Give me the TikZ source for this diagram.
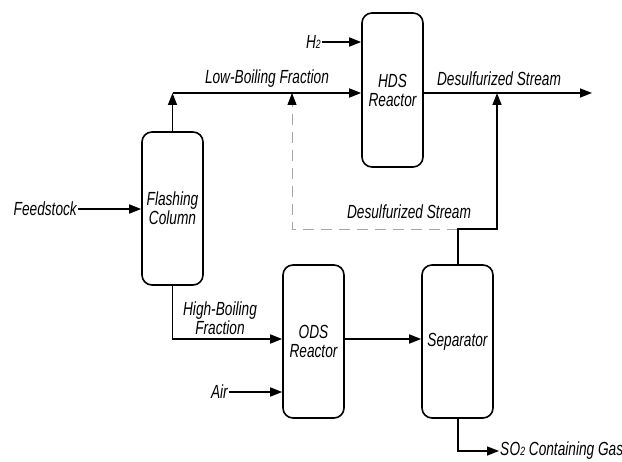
\documentclass[tikz,border=0pt]{standalone}
\usepackage{fontspec}
\setmainfont{Liberation Sans}[FakeStretch=0.72]
\usetikzlibrary{arrows.meta,calc}
\newcommand{\sm}[1]{{\fontsize{12}{13}\selectfont #1}}
\begin{document}
\begin{tikzpicture}[x=1pt,y=-1pt,
  unit/.style={draw,line width=1.6pt,rounded corners=10pt,inner sep=0pt,align=center,font=\fontsize{19}{19}\selectfont\itshape},
  lbl/.style={inner sep=1pt,font=\fontsize{19}{19}\selectfont\itshape,align=center},
  pipe/.style={line width=1.6pt},
  arr/.style={pipe,-{Triangle[length=12pt,width=9pt]}},
  dsh/.style={line width=0.9pt,gray!70,dash pattern=on 11pt off 7pt,-{Triangle[length=12pt,width=9pt,color=black]}}]
\useasboundingbox (0,0) rectangle (622,462);
% units
\node[unit,minimum width=61pt,minimum height=153pt] (col) at (172.5,208.5) {Flashing\\Column};
\node[unit,minimum width=61pt,minimum height=154pt] (hds) at (392.5,90) {HDS\\Reactor};
\node[unit,minimum width=61pt,minimum height=153pt] (ods) at (313.5,341.5) {ODS\\Reactor};
\node[unit,minimum width=71pt,minimum height=153pt] (sep) at (457.5,341.5) {Separator};
% stream labels
\node[lbl,anchor=east] (feed) at (78,209) {Feedstock};
\node[lbl,anchor=east] (h2) at (322,42) {H\sm{2}};
\node[lbl,anchor=east] (air) at (229,392) {Air};
\node[lbl,anchor=west] (so2) at (499,451) {S\hspace{0.3pt}O\sm{2} Containing Gas};
\node[lbl] (lbf) at (267,79) {Low-Boiling Fraction};
\node[lbl] (ds1) at (499,79) {Desulfurized Stream};
\node[lbl] (ds2) at (409,212) {Desulfurized Stream};
\node[lbl] (hbf) at (220,318) {High-Boiling\\Fraction};
% junction coordinates
\coordinate (j1) at (172.5,93);
\coordinate (j2) at (292,93);
\coordinate (d1) at (292,229);
\coordinate (s1) at (458,229);
\coordinate (s2) at (497,229);
\coordinate (j3) at (497,93);
\coordinate (out) at (592,93);
\coordinate (b1) at (458,451);
\coordinate (h1) at (172.5,339);
% connectors
\draw[arr] (feed.east) -- (col.west|-feed.east);
\draw[arr] (col.north) -- (j1);
\draw[arr] (j1) -- (hds.west|-j1);
\draw[arr] (h2.east) -- (hds.west|-h2.east);
\draw[arr] (hds.east|-j3) -- (out);
\draw[dsh] (s1) -- (d1) -- (j2);
\draw[arr] (sep.north-|s1) -- (s1) -- (s2) -- (j3);
\draw[arr] (col.south) -- (h1) -- (ods.west|-h1);
\draw[arr] (ods.east|-h1) -- (sep.west|-h1);
\draw[arr] (air.east) -- (ods.west|-air.east);
\draw[arr] (sep.south-|b1) -- (b1) -- (so2.west);
\end{tikzpicture}
\end{document}
